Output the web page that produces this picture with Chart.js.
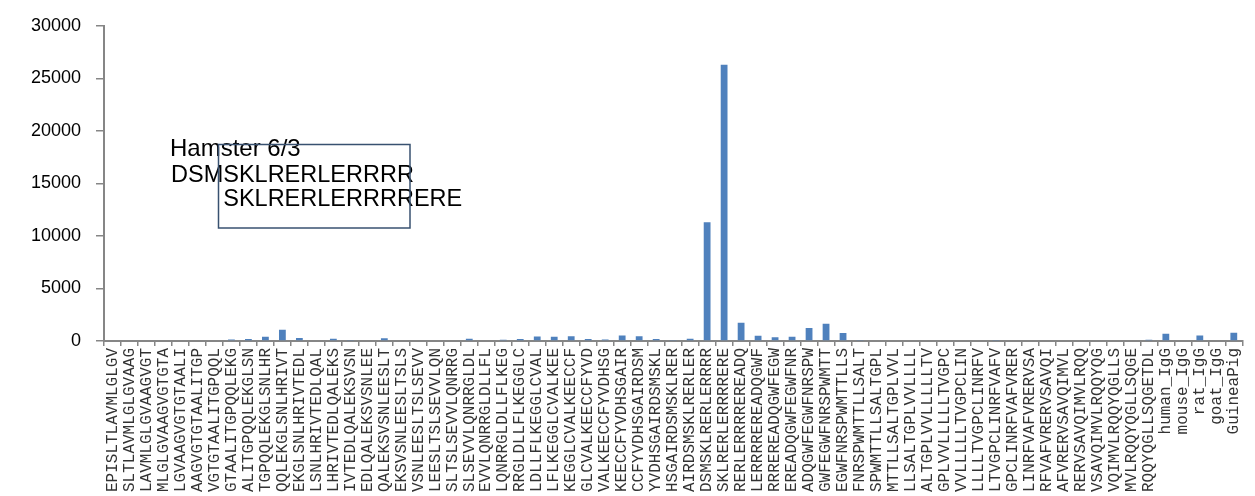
<!DOCTYPE html>
<html>
<head>
<meta charset="utf-8">
<script src="https://cdn.jsdelivr.net/npm/chart.js@4.4.1/dist/chart.umd.min.js"></script>
<style>
  html, body { margin: 0; padding: 0; background: #ffffff; overflow: hidden; }
  #wrap { position: relative; width: 1255px; height: 496px; }
</style>
</head>
<body>
<div id="wrap"><canvas id="chart" width="1255" height="496"></canvas></div>
<script>
// Peptide windows (15-mers) followed by control IgG samples
const peptides = [
  'EPISLTLAVMLGLGV', 'SLTLAVMLGLGVAAG', 'LAVMLGLGVAAGVGT', 'MLGLGVAAGVGTGTA',
  'LGVAAGVGTGTAALI', 'AAGVGTGTAALITGP', 'VGTGTAALITGPQQL', 'GTAALITGPQQLEKG',
  'ALITGPQQLEKGLSN', 'TGPQQLEKGLSNLHR', 'QQLEKGLSNLHRIVT', 'EKGLSNLHRIVTEDL',
  'LSNLHRIVTEDLQAL', 'LHRIVTEDLQALEKS', 'IVTEDLQALEKSVSN', 'EDLQALEKSVSNLEE',
  'QALEKSVSNLEESLT', 'EKSVSNLEESLTSLS', 'VSNLEESLTSLSEVV', 'LEESLTSLSEVVLQN',
  'SLTSLSEVVLQNRRG', 'SLSEVVLQNRRGLDL', 'EVVLQNRRGLDLLFL', 'LQNRRGLDLLFLKEG',
  'RRGLDLLFLKEGGLC', 'LDLLFLKEGGLCVAL', 'LFLKEGGLCVALKEE', 'KEGGLCVALKEECCF',
  'GLCVALKEECCFYVD', 'VALKEECCFYVDHSG', 'KEECCFYVDHSGAIR', 'CCFYVDHSGAIRDSM',
  'YVDHSGAIRDSMSKL', 'HSGAIRDSMSKLRER', 'AIRDSMSKLRERLER', 'DSMSKLRERLERRRR',
  'SKLRERLERRRRERE', 'RERLERRRREREADQ', 'LERRRREREADQGWF', 'RRREREADQGWFEGW',
  'EREADQGWFEGWFNR', 'ADQGWFEGWFNRSPW', 'GWFEGWFNRSPWMTT', 'EGWFNRSPWMTTLLS',
  'FNRSPWMTTLLSALT', 'SPWMTTLLSALTGPL', 'MTTLLSALTGPLVVL', 'LLSALTGPLVVLLLL',
  'ALTGPLVVLLLLLTV', 'GPLVVLLLLLTVGPC', 'VVLLLLLTVGPCLIN', 'LLLLTVGPCLINRFV',
  'LTVGPCLINRFVAFV', 'GPCLINRFVAFVRER', 'LINRFVAFVRERVSA', 'RFVAFVRERVSAVQI',
  'AFVRERVSAVQIMVL', 'RERVSAVQIMVLRQQ', 'VSAVQIMVLRQQYQG', 'VQIMVLRQQYQGLLS',
  'MVLRQQYQGLLSQGE', 'RQQYQGLLSQGETDL',
  'human_IgG', 'mouse_IgG', 'rat_IgG', 'goat_IgG', 'GuineaPig'
];

// Binding signal for each window
const signal = [
  0, 0, 0, 0, 0, 0, 0, 150,
  180, 400, 1080, 280, 0, 220, 100, 0,
  250, 0, 0, 0, 0, 220, 60, 120,
  200, 420, 400, 450, 200, 150, 520, 450,
  200, 50, 220, 11300, 26300, 1730, 500, 350,
  410, 1230, 1630, 750, 50, 0, 0, 0,
  0, 0, 0, 0, 100, 0, 60, 0,
  0, 0, 0, 0, 0, 120,
  690, 0, 535, 0, 790
];

const yMin = 0;
const yMax = 30000;
const yStep = 5000;

const titleText = 'Hamster 6/3';
const peptideLine1 = 'DSMSKLRERLERRRR';
const peptideLine2 = 'SKLRERLERRRRERE';

const axisGrey = '#868686';

// Inset note with the two overlapping peptides and the shared core boxed
const notePlugin = {
  id: 'note',
  afterDraw(chart) {
    const ctx = chart.ctx;
    ctx.save();
    ctx.fillStyle = '#000000';
    ctx.textBaseline = 'alphabetic';
    ctx.textAlign = 'left';
    ctx.font = '24px "Liberation Sans", Arial, sans-serif';
    ctx.fillText(titleText, 170, 156);
    ctx.font = '23.5px "Liberation Sans", Arial, sans-serif';
    ctx.fillText(peptideLine1, 171, 181.5);
    const prefixW = ctx.measureText('DSM').width;
    ctx.fillText(peptideLine2, 171 + prefixW, 205.5);
    ctx.strokeStyle = '#385170';
    ctx.lineWidth = 1.5;
    ctx.strokeRect(218.5, 144.5, 191.5, 83.5);
    ctx.restore();
  }
};

new Chart(document.getElementById('chart'), {
  type: 'bar',
  data: {
    labels: peptides,
    datasets: [{
      data: signal,
      backgroundColor: '#4f81bd',
      borderWidth: 0,
      barPercentage: 0.4,
      categoryPercentage: 1.0
    }]
  },
  options: {
    responsive: false,
    animation: false,
    devicePixelRatio: 1,
    layout: { padding: { top: 23, right: 0, bottom: 0, left: 0 } },
    plugins: {
      legend: { display: false },
      tooltip: { enabled: false }
    },
    scales: {
      x: {
        offset: true,
        grid: {
          display: true,
          drawOnChartArea: false,
          offset: true,
          tickLength: 5,
          color: axisGrey,
          lineWidth: 1.5
        },
        border: { display: true, color: axisGrey, width: 2 },
        ticks: {
          autoSkip: false,
          maxRotation: 90,
          minRotation: 90,
          padding: 2,
          color: '#333333',
          font: { family: '"Liberation Mono", "Courier New", monospace', size: 16 }
        },
        afterFit(scale) { scale.height = 155; }
      },
      y: {
        min: yMin,
        max: yMax,
        grid: {
          display: true,
          drawOnChartArea: false,
          tickLength: 8,
          color: axisGrey,
          lineWidth: 1.5
        },
        border: { display: true, color: axisGrey, width: 2 },
        ticks: {
          stepSize: yStep,
          padding: 15,
          color: '#000000',
          font: { family: '"Liberation Sans", Arial, sans-serif', size: 18 },
          callback: (v) => String(v)
        },
        afterFit(scale) { scale.width = 104; }
      }
    }
  },
  plugins: [notePlugin]
});
</script>
</body>
</html>
